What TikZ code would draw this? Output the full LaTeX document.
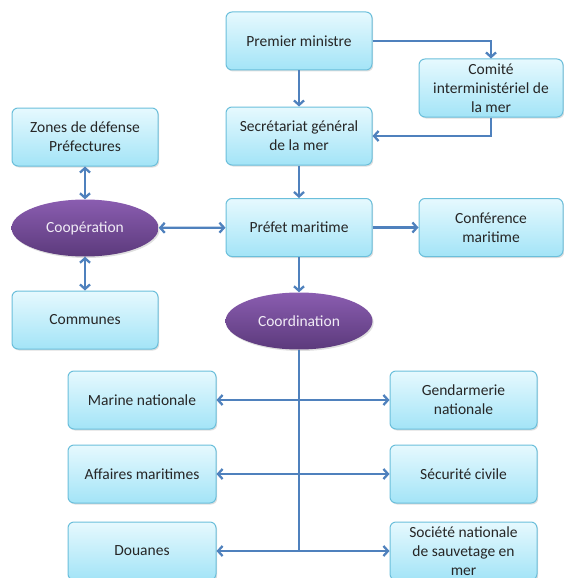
\documentclass[tikz,border=0pt]{standalone}
\usepackage{fontspec}
\setmainfont{Carlito}
\usetikzlibrary{arrows.meta,shapes,shadows,calc}

\definecolor{boxtop}{HTML}{E6F9FE}
\definecolor{boxbot}{HTML}{A3E4F7}
\definecolor{boxline}{HTML}{6BBFDB}
\definecolor{ovaltop}{HTML}{8A5DB0}
\definecolor{ovalbot}{HTML}{5C3A7C}
\definecolor{linkblue}{HTML}{4F81BD}

\tikzset{
  box/.style={draw=boxline, line width=1pt, rounded corners=6pt,
    top color=boxtop, bottom color=boxbot, inner sep=2pt,
    minimum width=146pt, minimum height=58pt, align=center,
    text=black!85, font=\fontsize{15.5}{19}\selectfont,
    drop shadow={shadow xshift=1.2pt, shadow yshift=-1.5pt, opacity=0.25}},
  oval/.style={ellipse, top color=ovaltop, bottom color=ovalbot,
    minimum width=147pt, minimum height=57pt, inner sep=0pt,
    text=white!88!ovaltop, font=\fontsize{15.5}{19}\selectfont,
    drop shadow={shadow xshift=1.2pt, shadow yshift=-1.5pt, opacity=0.25}},
  plain/.style={draw=linkblue, line width=2.3pt},
  link/.style={plain, -{Straight Barb[length=4.5pt,width=10pt]}},
  both/.style={plain, {Straight Barb[length=4.5pt,width=10pt]}-{Straight Barb[length=4.5pt,width=10pt]}}
}

\begin{document}
\begin{tikzpicture}[x=1pt,y=-1pt]
\useasboundingbox (0,0) rectangle (563,578);
% the central column
\node[box] (premier) at (299,41) {Premier ministre};
\node[box, minimum width=144pt] (comite) at (491,88) {Comité\\interministériel de\\la mer};
\node[box] (secretariat) at (299,136) {Secrétariat général\\de la mer};
\node[box] (prefet) at (299,227.5) {Préfet maritime};
\node[box, minimum width=144pt] (conference) at (491,227.5) {Conférence\\maritime};
\node[oval] (coordination) at (299,321) {Coordination};
% the left column
\node[box] (zones) at (85,137) {Zones de défense\\Préfectures};
\node[oval] (cooperation) at (85,228) {Coopération};
\node[box] (communes) at (85,320) {Communes};
% the services
\node[box, minimum width=148pt] (marine) at (142,400) {Marine nationale};
\node[box, minimum width=147pt] (gendarmerie) at (463.5,400) {Gendarmerie\\nationale};
\node[box, minimum width=148pt] (affaires) at (142,474) {Affaires maritimes};
\node[box, minimum width=147pt] (securite) at (463.5,474) {Sécurité civile};
\node[box, minimum width=148pt] (douanes) at (142,551) {Douanes};
\node[box, minimum width=147pt] (societe) at (463.5,551) {Société nationale\\de sauvetage en\\mer};
% the links
\draw[link] (premier) -- (secretariat);
\draw[link] (premier.east) -| (comite.north);
\draw[link] (comite.south) |- (secretariat.east);
\draw[link] (secretariat) -- (prefet);
\draw[link] (prefet) -- (conference);
\draw[link] (prefet) -- (coordination);
\draw[both] (cooperation) -- (prefet);
\draw[both] (zones) -- (cooperation);
\draw[both] (cooperation) -- (communes);
\coordinate (trunkend) at (coordination.south |- douanes.east);
\draw[plain] (coordination.south) -- (trunkend);
\foreach \l/\r in {marine/gendarmerie, affaires/securite, douanes/societe}
  \draw[both] (\l.east) -- (\r.west);
\end{tikzpicture}
\end{document}
